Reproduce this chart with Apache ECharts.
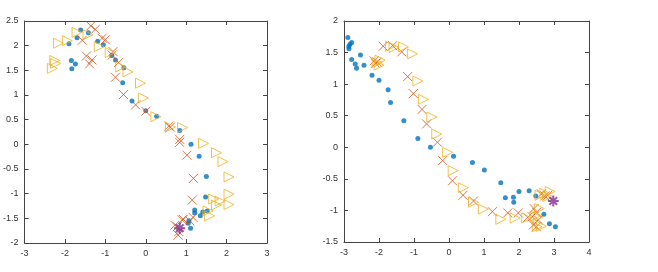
<!DOCTYPE html>
<html>
<head>
<meta charset="utf-8">
<script src="https://cdn.jsdelivr.net/npm/echarts@6/dist/echarts.min.js"></script>
<style>html,body{margin:0;padding:0;background:#fff}#c{width:658px;height:272px}</style>
</head>
<body>
<div id="c"></div>
<script>
// ---- Left panel data ----
const leftXTicks = [-3, -2, -1, 0, 1, 2, 3];
const leftYTicks = [-2, -1.5, -1, -0.5, 0, 0.5, 1, 1.5, 2, 2.5];
const leftBlue = [
  [-1.61,2.32],[-1.90,2.04],[-1.70,2.16],[-1.42,2.26],[-1.84,1.70],[-1.74,1.63],[-1.83,1.53],
  [-1.19,2.09],[-1.05,2.02],[-0.84,1.80],[-0.75,1.71],[-0.54,1.55],[-0.57,1.25],[-0.34,0.88],
  [0.00,0.68],[0.27,0.57],[0.84,0.28],[1.12,0.00],[1.32,-0.24],[1.50,-0.65],[1.48,-1.07],
  [1.21,-1.33],[1.21,-1.39],[1.41,-1.37],[1.52,-1.35],[1.35,-1.45],[1.07,-1.55],[1.05,-1.60],[1.11,-1.70]
];
const leftOrange = [
  [-1.36,2.40],[-1.25,2.33],[-1.57,2.11],[-1.08,2.15],[-1.00,2.12],[-0.81,1.88],[-0.83,1.81],
  [-1.47,1.79],[-1.33,1.71],[-1.39,1.63],[-0.67,1.66],[-0.75,1.36],[-0.55,1.01],[-0.25,0.80],
  [0.00,0.67],[0.57,0.37],[0.61,0.35],[0.84,0.10],[0.84,0.04],[1.02,-0.22],[1.18,-0.69],
  [1.15,-1.13],[1.17,-1.48],[0.93,-1.52],[1.09,-1.55],[0.90,-1.53],[0.78,-1.67],[0.72,-1.64],[0.80,-1.84],[0.82,-1.77]
];
const leftYellow = [
  [-2.31,1.54],[-2.25,1.70],[-2.23,1.64],[-2.16,2.05],[-1.94,2.10],[-1.70,2.27],[-1.43,2.22],
  [-1.15,1.98],[-0.88,1.86],[-0.62,1.57],[-0.44,1.47],[-0.13,1.24],[-0.06,0.94],[0.25,0.56],
  [0.61,0.35],[0.91,0.34],[1.43,0.02],[1.75,-0.17],[1.91,-0.35],[2.06,-0.66],[2.06,-1.01],
  [2.06,-1.22],[1.68,-1.11],[1.84,-1.15],[1.75,-1.23],[1.54,-1.35],[1.58,-1.45]
];
const leftPurple = [[0.84,-1.70]];

// ---- Right panel data ----
const rightXTicks = [-3, -2, -1, 0, 1, 2, 3, 4];
const rightYTicks = [-1.5, -1, -0.5, 0, 0.5, 1, 1.5, 2];
const rightBlue = [
  [-2.89,1.74],[-2.86,1.60],[-2.86,1.56],[-2.78,1.66],[-2.83,1.63],[-2.78,1.39],[-2.68,1.32],
  [-2.64,1.25],[-2.53,1.46],[-2.43,1.30],[-2.20,1.14],[-2.00,1.06],[-1.74,0.91],[-1.67,0.71],
  [-1.29,0.42],[-0.89,0.14],[-0.53,0.00],[0.13,-0.14],[0.67,-0.24],[1.01,-0.36],[1.48,-0.56],
  [1.61,-0.80],[1.84,-0.79],[1.85,-0.87],[2.00,-0.70],[2.29,-0.69],[2.48,-0.77],[2.71,-1.06],
  [2.87,-1.21],[3.04,-1.26]
];
const rightOrange = [
  [-1.88,1.60],[-1.61,1.61],[-1.35,1.51],[-2.14,1.37],[-2.10,1.33],[-2.05,1.35],[-1.18,1.12],
  [-1.02,0.85],[-0.77,0.60],[-0.64,0.37],[-0.33,0.08],[-0.18,-0.21],[0.10,-0.53],[0.40,-0.76],
  [0.70,-0.85],[1.24,-1.02],[1.68,-1.04],[1.98,-1.04],[2.25,-1.11],[2.43,-0.97],[2.41,-1.23],
  [2.50,-1.26],[2.64,-0.74],[2.74,-0.77],[2.82,-0.76],[2.50,-1.03],[2.38,-1.10],[2.55,-1.15]
];
const rightYellow = [
  [-1.97,1.38],[-2.05,1.34],[-2.00,1.30],[-1.67,1.60],[-1.57,1.58],[-1.30,1.59],[-1.04,1.48],
  [-0.89,1.05],[-0.73,0.76],[-0.49,0.48],[-0.35,0.21],[-0.04,-0.08],[0.12,-0.37],[0.41,-0.64],
  [0.70,-0.87],[0.98,-0.98],[1.48,-1.14],[1.89,-1.12],[2.22,-1.12],[2.46,-1.09],[2.58,-0.97],
  [2.52,-1.26],[2.64,-1.25],[2.89,-0.70],[2.74,-0.73],[2.60,-0.76],[2.82,-0.78],[2.55,-1.10]
];
const rightPurple = [[2.98,-0.85]];

const BLUE = '#0072BD', ORANGE = '#D95319', YELLOW = '#EDB120', PURPLE = '#7E2F8E';
const XPATH = 'path://M0,0L10,10M10,0L0,10';
const TRI = 'path://M0,0L10,5L0,10Z';
const STAR = 'path://M5,0L5,10M0,5L10,5M1.5,1.5L8.5,8.5M8.5,1.5L1.5,8.5';
const AXC = '#444';
const LBL = '#333';

function xAx(grid, ticks, pos) {
  return {
    type: 'value', gridIndex: grid, position: pos,
    min: ticks[0], max: ticks[ticks.length - 1], interval: ticks[1] - ticks[0],
    axisLine: { show: true, onZero: false, lineStyle: { color: AXC, width: 1 } },
    axisTick: { show: true, inside: true, length: 4, lineStyle: { color: AXC } },
    axisLabel: { show: pos === 'bottom', color: LBL, fontSize: 9, fontFamily: 'Liberation Sans', margin: 6 },
    splitLine: { show: false }
  };
}
function yAx(grid, ticks, pos) {
  return {
    type: 'value', gridIndex: grid, position: pos,
    min: ticks[0], max: ticks[ticks.length - 1], interval: ticks[1] - ticks[0],
    axisLine: { show: true, onZero: false, lineStyle: { color: AXC, width: 1 } },
    axisTick: { show: true, inside: true, length: 4, lineStyle: { color: AXC } },
    axisLabel: { show: pos === 'left', color: LBL, fontSize: 9, fontFamily: 'Liberation Sans', margin: 6,
      formatter: v => String(v) },
    splitLine: { show: false }
  };
}
function sc(data, ax, kind) {
  const base = { type: 'scatter', data: data, xAxisIndex: ax, yAxisIndex: ax, silent: true, animation: false };
  if (kind === 'dot') return Object.assign(base, { symbol: 'circle', symbolSize: 5, itemStyle: { color: BLUE } });
  if (kind === 'x') return Object.assign(base, { symbol: XPATH, symbolSize: 9, itemStyle: { color: 'none', borderColor: ORANGE, borderWidth: 1 } });
  if (kind === 'tri') return Object.assign(base, { symbol: TRI, symbolSize: 10, itemStyle: { color: 'none', borderColor: YELLOW, borderWidth: 1 } });
  return Object.assign(base, { symbol: STAR, symbolSize: 11, z: 5, itemStyle: { color: 'none', borderColor: PURPLE, borderWidth: 2 } });
}

const chart = echarts.init(document.getElementById('c'), null, { renderer: 'canvas' });
chart.setOption({
  animation: false,
  grid: [
    { left: 22, top: 21, width: 245, height: 222 },
    { left: 344, top: 21, width: 245, height: 221 }
  ],
  xAxis: [
    xAx(0, leftXTicks, 'bottom'), xAx(1, rightXTicks, 'bottom'),
    xAx(0, leftXTicks, 'top'), xAx(1, rightXTicks, 'top')
  ],
  yAxis: [
    yAx(0, leftYTicks, 'left'), yAx(1, rightYTicks, 'left'),
    yAx(0, leftYTicks, 'right'), yAx(1, rightYTicks, 'right')
  ],
  series: [
    sc(leftBlue, 0, 'dot'), sc(leftOrange, 0, 'x'), sc(leftYellow, 0, 'tri'), sc(leftPurple, 0, 'star'),
    sc(rightBlue, 1, 'dot'), sc(rightOrange, 1, 'x'), sc(rightYellow, 1, 'tri'), sc(rightPurple, 1, 'star')
  ]
});
</script>
</body>
</html>
